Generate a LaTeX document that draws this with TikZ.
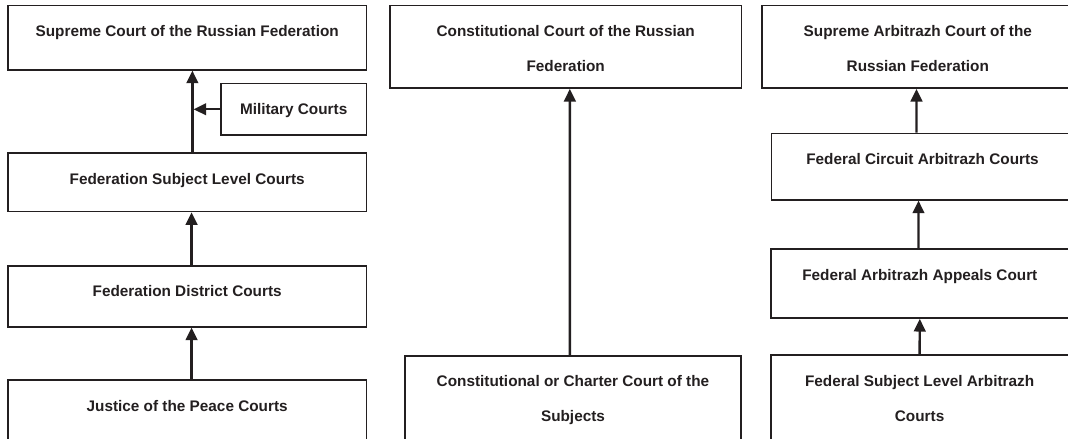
\documentclass[tikz,border=0pt]{standalone}
\usepackage{fontspec}
\setmainfont{Liberation Sans}
\usetikzlibrary{arrows.meta}
\definecolor{ink}{HTML}{231F20}

\begin{document}
\begin{tikzpicture}[x=0.025cm, y=-0.025cm,
        court/.style={draw=ink, line width=1.1pt, inner sep=0pt, anchor=north west, align=center, text=ink, text height=0.775cm, font=\fontsize{10.9}{24.9}\selectfont\bfseries},
        twoline/.style={text height=1.65cm},
        appeal/.style={draw=ink, line width=1.7pt, -{Triangle[length=9pt,width=8.3pt]}}]
            \useasboundingbox (0,0) rectangle (1068,439);
            \clip (0,0) rectangle (1068,439);
            \node[court, minimum width=8.968cm, text depth=0.833cm] (sc) at (7,4.7) {Supreme Court of the Russian Federation};
            \node[court, minimum width=3.643cm, text depth=0.515cm] (mil) at (220,82.7) {Military Courts};
            \node[court, minimum width=8.968cm, text depth=0.685cm] (subj) at (7,152.3) {Federation Subject Level Courts};
            \node[court, minimum width=8.968cm, text depth=0.75cm] (dist) at (7,265) {Federation District Courts};
            \node[court, minimum width=8.968cm, text depth=1.49cm] (jp) at (7,379.3) {Justice of the Peace Courts};

            \node[court, twoline, minimum width=8.793cm, text depth=0.415cm] (ct) at (389,4.7) {Constitutional Court of the Russian\\Federation};
            \node[court, twoline, minimum width=8.393cm, text depth=1.225cm] (cb) at (404.3,355) {Constitutional or Charter Court of the\\Subjects};

            \node[court, twoline, minimum width=7.8cm, text depth=0.415cm] (sa) at (761,4.7) {Supreme Arbitrazh Court of the\\Russian Federation};
            \node[court, minimum width=7.55cm, text depth=0.883cm] (fc) at (770.7,132.7) {Federal Circuit Arbitrazh Courts};
            \node[court, minimum width=7.435cm, text depth=0.95cm] (fa) at (770.3,248.3) {Federal Arbitrazh Appeals Court};
            \node[court, twoline, minimum width=7.44cm, text depth=1.243cm] (fs) at (770,354.3) {Federal Subject Level Arbitrazh\\Courts};

            \draw[appeal] ([xshift=0.13cm]subj.north) -- ([xshift=0.13cm]sc.south);
            \draw[appeal] (mil.west) -- ([xshift=0.16cm]sc.south |- mil.west);
            \draw[appeal] ([xshift=0.11cm]dist.north) -- ([xshift=0.11cm]subj.south);
            \draw[appeal] ([xshift=0.11cm]jp.north) -- ([xshift=0.11cm]dist.south);
            \draw[appeal] ([xshift=-0.079cm]cb.north) -- ([xshift=0.104cm]ct.south);
            \draw[appeal] ([xshift=-0.15cm]fc.north) -- ([xshift=-0.033cm]sa.south);
            \draw[appeal] ([xshift=-0.033cm]fa.north) -- ([xshift=-0.1cm]fc.south);
            \draw[appeal] (fs.north) -- (fa.south);
        \end{tikzpicture}
\end{document}
